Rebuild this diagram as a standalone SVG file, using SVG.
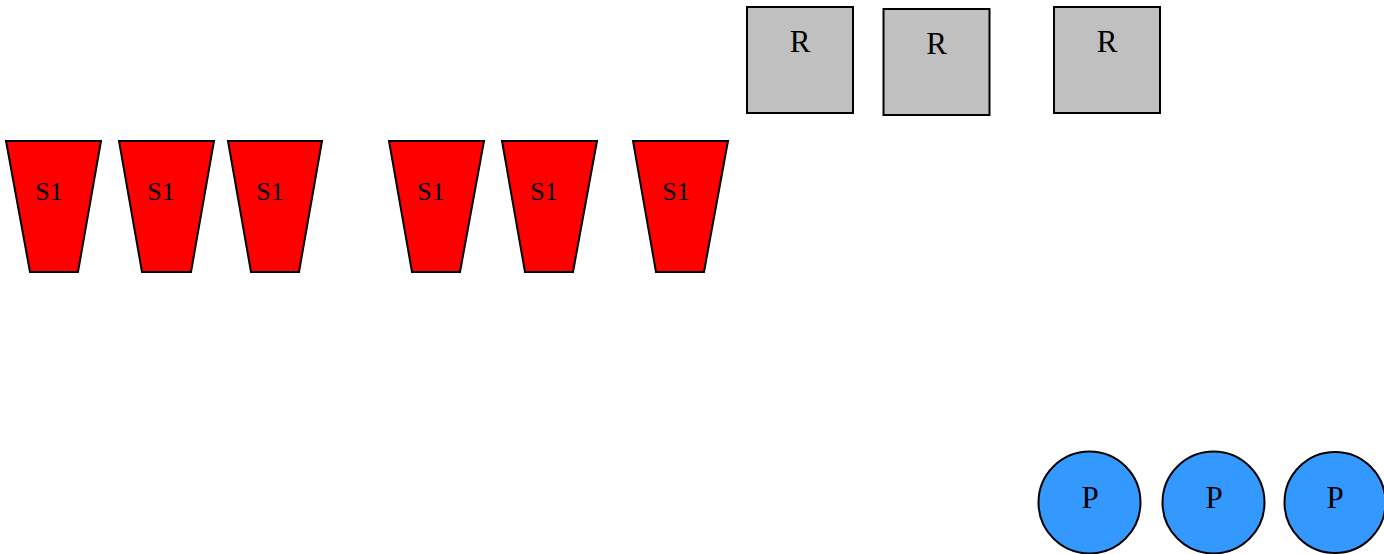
<svg xmlns="http://www.w3.org/2000/svg" width="1384" height="554" viewBox="0 0 1384 554">
<style>
.s{fill:#ff0000;stroke:#000;stroke-width:2}
.r{fill:#c0c0c0;stroke:#000;stroke-width:2}
.p{fill:#3399ff;stroke:#000;stroke-width:2}
text{font-family:"Liberation Serif","Times New Roman",serif;fill:#000;text-anchor:middle}
.ts{font-size:26px}
.tr{font-size:31px}
</style>
<rect width="1384" height="554" fill="#fff"/>
<g id="connectors"></g>
<g id="s1a"><polygon class="s" points="6,141 101,141 78,272 30,272"/><text class="ts" x="49" y="200">S1</text></g>
<g id="s1b"><polygon class="s" points="119,141 214,141 191,272 142,272"/><text class="ts" x="161" y="200">S1</text></g>
<g id="s1c"><polygon class="s" points="228,141 322,141 299,272 251,272"/><text class="ts" x="270" y="200">S1</text></g>
<g id="s1d"><polygon class="s" points="389,141 484,141 460,272 412,272"/><text class="ts" x="431" y="200">S1</text></g>
<g id="s1e"><polygon class="s" points="502,141 597,141 573,272 525,272"/><text class="ts" x="544" y="200">S1</text></g>
<g id="s1f"><polygon class="s" points="633,141 728,141 704,272 656,272"/><text class="ts" x="676" y="200">S1</text></g>
<g id="ra"><rect class="r" x="747" y="7" width="106" height="106"/><text class="tr" x="800" y="52">R</text></g>
<g id="rb"><rect class="r" x="883.5" y="9" width="106" height="106"/><text class="tr" x="936.5" y="54">R</text></g>
<g id="rc"><rect class="r" x="1054" y="7" width="106" height="106"/><text class="tr" x="1107" y="52">R</text></g>
<g id="pa"><circle class="p" cx="1089.5" cy="502.5" r="51"/><text class="tr" x="1090" y="508">P</text></g>
<g id="pb"><circle class="p" cx="1213.5" cy="502.5" r="51"/><text class="tr" x="1214" y="508">P</text></g>
<g id="pc"><circle class="p" cx="1335" cy="502.5" r="50.5"/><text class="tr" x="1335" y="508">P</text></g>
</svg>
